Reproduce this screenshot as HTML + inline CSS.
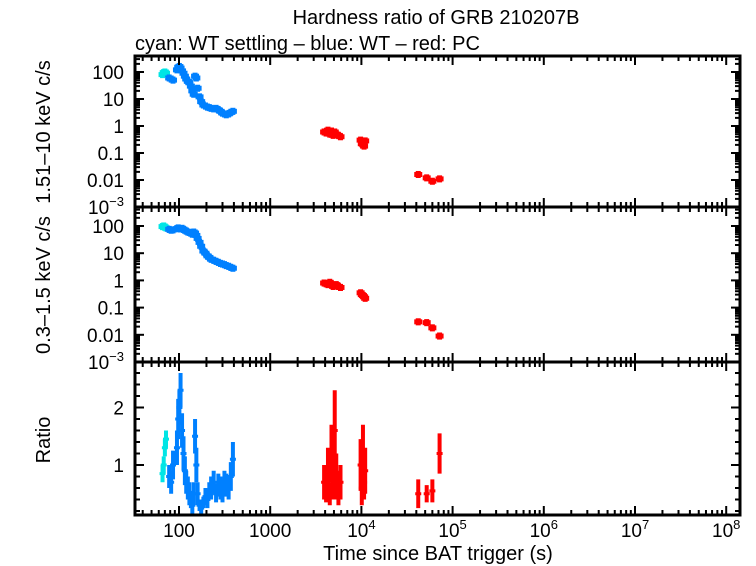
<!DOCTYPE html>
<html><head><meta charset="utf-8"><style>
body{margin:0;background:#fff}
svg{display:block}
text{font-family:"Liberation Sans",sans-serif;fill:#000}
</style></head><body>
<svg id="chart" width="756" height="566" viewBox="0 0 756 566" xmlns="http://www.w3.org/2000/svg">
<text x="436" y="24" font-size="20" text-anchor="middle">Hardness ratio of GRB 210207B</text>
<text x="135" y="50" font-size="20">cyan: WT settling – blue: WT – red: PC</text>
<text x="438" y="560" font-size="20" text-anchor="middle">Time since BAT trigger (s)</text>
<text transform="translate(50,132) rotate(-90)" font-size="20" text-anchor="middle">1.51–10 keV c/s</text>
<text transform="translate(50,285) rotate(-90)" font-size="20" text-anchor="middle">0.3–1.5 keV c/s</text>
<text transform="translate(50,440) rotate(-90)" font-size="20" text-anchor="middle">Ratio</text>
<g id="marks"></g>
<g id="axes"></g>
</svg>
<script>
const xTickVals=[100,1000,1e4,1e5,1e6,1e7,1e8];
const xTickLabels=["100","1000","10^4","10^5","10^6","10^7","10^8"];
const rateTickVals=[100,10,1,0.1,0.01,0.001];
const rateTickLabels=["100","10","1","0.1","0.01","10^-3"];
const ratioTickVals=[1,2];
const ratioTickLabels=["1","2"];

const cyanT=[66,68,70,72];
const cyanHard=[80,95,100,90];
const cyanSoft=[95,100,90,85];
const cyanRatio=[0.85,1.0,1.3,1.45];
const cyanRatioErr=[0.15,0.15,0.15,0.15];

const blueT=[78,82,86,95,98,101,104,108,112,116,120,125,130,135,140,145,150,155,160,168,175,185,195,205,215,225,240,255,270,285,300,315,330,350,370,390];
const blueHard=[60,55,50,120,150,160,140,110,90,70,55,45,40,30,20,15,70,60,25,12,8,6,5.5,5,4.8,4.5,4.3,4.5,4,3.5,3,2.8,2.6,2.8,3.2,3.5];
const blueSoft=[75,70,72,80,85,80,78,82,75,70,65,60,58,55,50,60,55,45,35,25,18,12,10,8,7,6,5.5,5,4.6,4.2,4,3.8,3.5,3.3,3,2.8];
const blueRatio=[0.8,0.7,1.0,1.3,1.8,2.0,2.3,1.6,1.2,0.9,0.7,0.6,0.5,0.4,0.3,0.5,1.5,1.0,0.5,0.3,0.25,0.35,0.45,0.4,0.55,0.6,0.7,0.5,0.65,0.6,0.55,0.7,0.65,0.6,0.8,1.1];
const blueRatioErr=[0.2,0.2,0.25,0.3,0.35,0.3,0.3,0.3,0.3,0.25,0.2,0.2,0.2,0.15,0.15,0.2,0.3,0.3,0.2,0.1,0.1,0.1,0.15,0.15,0.15,0.2,0.2,0.15,0.2,0.2,0.2,0.2,0.2,0.2,0.25,0.3];

const redT=[3900,4100,4300,4500,4700,4900,5100,5300,5600,5900,9800,10100,10400,10700,11000,42000,52000,60000,72000];
const redHard=[0.6,0.55,0.7,0.5,0.65,0.45,0.6,0.5,0.45,0.4,0.3,0.22,0.25,0.18,0.28,0.016,0.012,0.009,0.011];
const redSoft=[0.8,0.75,0.7,0.85,0.7,0.6,0.65,0.7,0.6,0.55,0.35,0.3,0.28,0.25,0.22,0.03,0.028,0.018,0.009];
const redRatio=[0.7,0.6,0.9,0.5,1.2,0.7,1.6,0.8,0.6,0.7,1.0,0.6,1.2,0.7,0.9,0.5,0.5,0.55,1.2];
const redRatioErr=[0.3,0.25,0.4,0.2,0.5,0.3,0.7,0.4,0.3,0.3,0.45,0.3,0.5,0.3,0.4,0.25,0.15,0.2,0.35];

const X0=135,X1=740;
const xs=t=>179+(Math.log10(t)-2)*91.2;
const P1={top:56,bot:207,y:v=>72+(2-Math.log10(v))*27};
const P2={top:207,bot:362,y:v=>226+(2-Math.log10(v))*27.2};
const P3={top:362,bot:515,y:v=>465-(v-1)*57.5};

const NS="http://www.w3.org/2000/svg";
const marks=document.getElementById('marks');
const axes=document.getElementById('axes');
function mk(tag,attrs,parent){const e=document.createElementNS(NS,tag);for(const k in attrs)e.setAttribute(k,attrs[k]);parent.appendChild(e);return e;}

function drawRate(T,V,P,color,name){
  T.forEach((t,i)=>{
    const g=mk('g',{},marks);
    
    
    const x=xs(t),y=P.y(V[i]);
    const dx=Math.max(4,xs(t*1.06)-x);
    mk('line',{x1:x-dx,x2:x+dx,y1:y,y2:y,stroke:color,'stroke-width':5},g);
    mk('line',{x1:x,x2:x,y1:P.y(V[i]*1.35),y2:P.y(V[i]/1.35),stroke:color,'stroke-width':5},g);
  });
}
function drawRatio(T,V,E,color,name){
  T.forEach((t,i)=>{
    const g=mk('g',{},marks);
    
    
    const x=xs(t),y=P3.y(V[i]);
    const dx=Math.max(3,xs(t*1.05)-x);
    mk('line',{x1:x-dx,x2:x+dx,y1:y,y2:y,stroke:color,'stroke-width':3},g);
    mk('line',{x1:x,x2:x,y1:P3.y(V[i]+E[i]),y2:P3.y(Math.max(0.13,V[i]-E[i])),stroke:color,'stroke-width':4},g);
  });
}
drawRate(cyanT,cyanHard,P1,'#00e5e5','cyan-hard');
drawRate(blueT,blueHard,P1,'#0080ff','blue-hard');
drawRate(redT,redHard,P1,'#ff0000','red-hard');
drawRate(cyanT,cyanSoft,P2,'#00e5e5','cyan-soft');
drawRate(blueT,blueSoft,P2,'#0080ff','blue-soft');
drawRate(redT,redSoft,P2,'#ff0000','red-soft');
drawRatio(cyanT,cyanRatio,cyanRatioErr,'#00e5e5','cyan');
drawRatio(blueT,blueRatio,blueRatioErr,'#0080ff','blue');
drawRatio(redT,redRatio,redRatioErr,'#ff0000','red');

function label(txt,x,y,anchor,name){
  const t=mk('text',{x:x,y:y,'font-size':19,'text-anchor':anchor},axes);
  
  
  if(txt.includes('^')){const [b,e]=txt.split('^');t.textContent=b;const s=mk('tspan',{dy:-8,'font-size':13},t);s.textContent=e.replace('-','−');}
  else t.textContent=txt;
}
[P1,P2,P3].forEach((P,pi)=>{
  const fr=mk('rect',{x:X0,y:P.top,width:X1-X0,height:P.bot-P.top,fill:'none',stroke:'#000','stroke-width':3},axes);
  
  
  for(let d=1;d<=8;d++){for(let m=1;m<10;m++){const t=m*Math.pow(10,d);const x=xs(t);if(x<X0||x>X1)continue;const L=m==1?9:5;
    mk('line',{x1:x,x2:x,y1:P.bot,y2:P.bot-L,stroke:'#000','stroke-width':2},axes);
    mk('line',{x1:x,x2:x,y1:P.top,y2:P.top+L,stroke:'#000','stroke-width':2},axes);}}
  if(pi<2){for(let d=-3;d<=2;d++){for(let m=1;m<10;m++){const v=m*Math.pow(10,d);const y=P.y(v);if(y<P.top||y>P.bot)continue;const L=m==1?9:5;
      mk('line',{x1:X0,x2:X0+L,y1:y,y2:y,stroke:'#000','stroke-width':2},axes);
      mk('line',{x1:X1,x2:X1-L,y1:y,y2:y,stroke:'#000','stroke-width':2},axes);}}
    rateTickVals.forEach((v,i)=>label(rateTickLabels[i],124,P.y(v)+7,'end','y-tick-label'));
  }else{for(let v=0.2;v<=2.8;v+=0.2){const y=P.y(v);if(y<P.top||y>P.bot)continue;const L=Math.abs(v-Math.round(v))<0.01?9:5;
      mk('line',{x1:X0,x2:X0+L,y1:y,y2:y,stroke:'#000','stroke-width':2},axes);
      mk('line',{x1:X1,x2:X1-L,y1:y,y2:y,stroke:'#000','stroke-width':2},axes);}
    ratioTickVals.forEach((v,i)=>label(ratioTickLabels[i],124,P.y(v)+7,'end','ratio-tick-label'));
  }
});
xTickVals.forEach((v,i)=>label(xTickLabels[i],xs(v),537,'middle','x-tick-label'));
</script>
</body></html>
